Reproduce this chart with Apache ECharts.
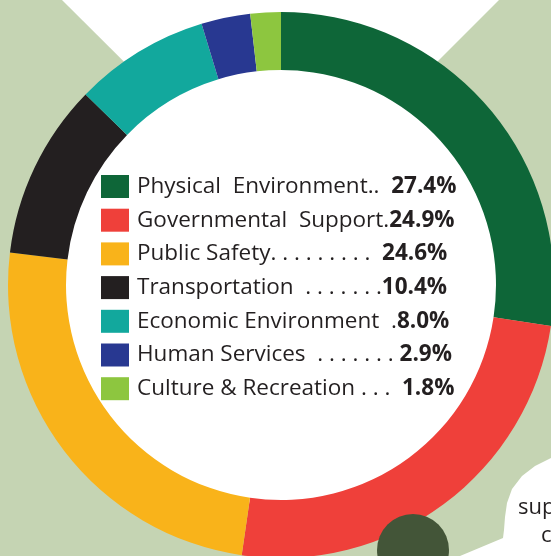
<!DOCTYPE html>
<html>
<head>
<meta charset="utf-8">
<style>
  html, body { margin: 0; padding: 0; background: #c5d4b3; }
  #main { width: 551px; height: 556px; }
</style>
<script src="https://cdn.jsdelivr.net/npm/echarts@6/dist/echarts.min.js"></script>
</head>
<body>
<div id="main"></div>
<script>
// 数据
var categories = ['Physical Environment', 'Governmental Support', 'Public Safety', 'Transportation',
  'Economic Environment', 'Human Services', 'Culture & Recreation']
var legendLabels = ['Physical  Environment..  ', 'Governmental  Support.', 'Public Safety. . . . . . . . .  ',
  'Transportation  . . . . . . .', 'Economic Environment  .', 'Human Services  . . . . . . . ',
  'Culture & Recreation . . .  ']
var shares = [27.4, 24.9, 24.6, 10.4, 8.0, 2.9, 1.8]
var colors = ['#0e6638', '#ef403a', '#f9b31a', '#231f20', '#12a89d', '#283891', '#8dc63f']

var chart = echarts.init(document.getElementById('main'))

var pieData = categories.map(function (c, i) {
  return { name: c, value: shares[i], itemStyle: { color: colors[i] } }
})

chart.setOption({
  backgroundColor: '#c5d4b3',
  animation: false,
  graphic: [
    // 白色三角背景
    { type: 'polygon', z: 0, shape: { points: [[62, 0], [499, 0], [281, 218]] }, style: { fill: '#fff' } },
    { type: 'circle', z: 0, shape: { cx: 281, cy: 285, r: 220 }, style: { fill: '#fff' } },
    // 右下角气泡
    {
      type: 'polygon', z: 0,
      shape: {
        points: [[551, 458], [535, 466], [522, 476], [512, 489], [507, 503], [505, 517],
          [504, 530], [503, 538], [460, 556], [551, 556]]
      },
      style: { fill: '#fff' }
    },
    { type: 'text', z: 5, left: 518, top: 497, style: { text: 'sup', font: '22px "Open Sans"', fill: '#231f20' } },
    { type: 'text', z: 5, left: 541, top: 525, style: { text: 'c', font: '22px "Open Sans"', fill: '#231f20' } },
    { type: 'circle', z: 10, shape: { cx: 413, cy: 550, r: 36 }, style: { fill: '#435538' } }
  ],
  legend: {
    orient: 'vertical',
    left: 101,
    top: 175,
    padding: 0,
    itemWidth: 28,
    itemHeight: 23,
    itemGap: 10.7,
    icon: 'rect',
    selectedMode: false,
    data: categories,
    formatter: function (name) {
      var i = categories.indexOf(name)
      return '{n|' + legendLabels[i] + '}{v|' + shares[i].toFixed(1) + '%}'
    },
    textStyle: {
      padding: [0, 0, 0, 3],
      rich: {
        n: { fontFamily: 'Open Sans', fontSize: 22.5, color: '#231f20', lineHeight: 23 },
        v: { fontFamily: 'Open Sans', fontSize: 22.5, fontWeight: 'bold', color: '#231f20', lineHeight: 23 }
      }
    }
  },
  series: [
    {
      type: 'pie',
      center: [281, 285],
      radius: [215, 273],
      startAngle: 90,
      clockwise: true,
      silent: true,
      label: { show: false },
      labelLine: { show: false },
      itemStyle: { borderWidth: 0 },
      data: pieData
    }
  ]
})
</script>
</body>
</html>
